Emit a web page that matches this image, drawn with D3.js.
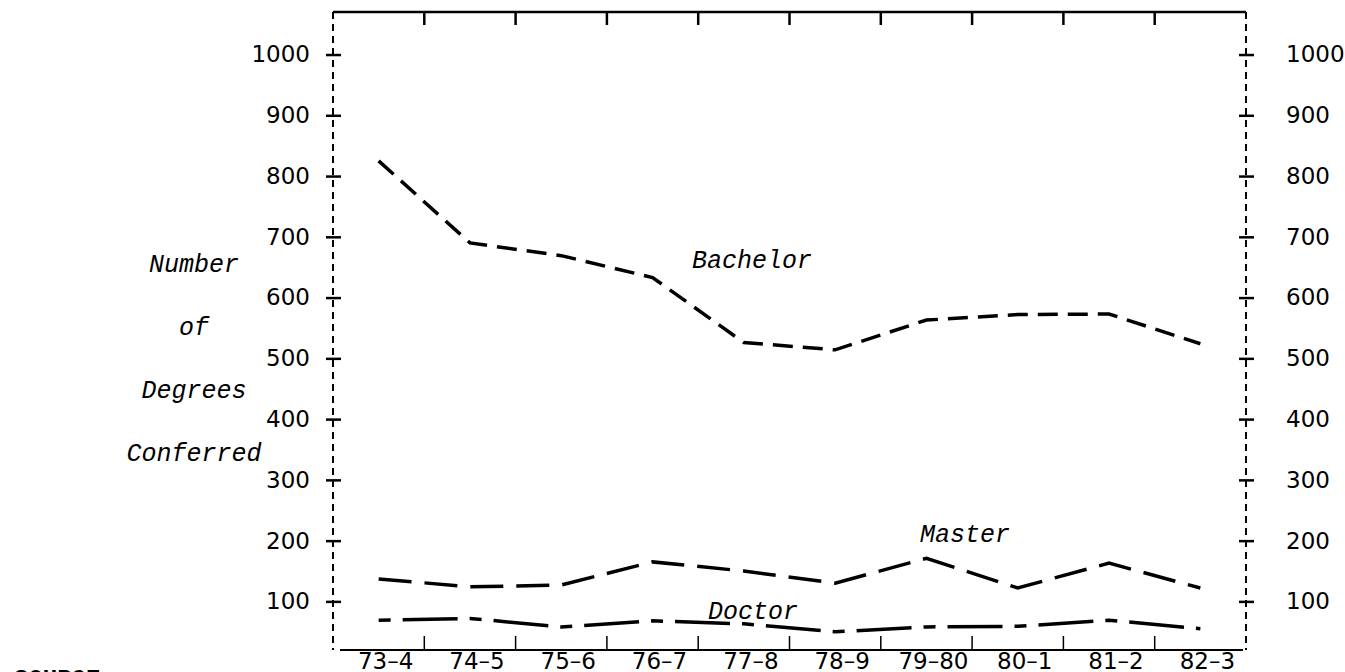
<!DOCTYPE html>
<meta charset="utf-8">
<script src="https://d3js.org/d3.v7.min.js"></script>
<style>
  body { margin: 0; background: #fff; }
  .tick text { font-family: "DejaVu Sans"; font-size: 23px; fill: #000; }
  .lbl { font-family: "Liberation Mono"; font-style: italic; font-size: 25px; fill: #000; }
</style>
<body>
<div id="chart"></div>
<script>
  // ---------------- data ----------------
  const years = ["73–4", "74–5", "75–6", "76–7", "77–8", "78–9", "79–80", "80–1", "81–2", "82–3"];
  const bachelor = [825, 690, 669, 633, 526, 514, 563, 572, 573, 524];
  const master = [137, 124, 127, 165, 150, 130, 171, 122, 163, 122];
  const doctor = [69, 72, 58, 68, 63, 50, 58, 59, 69, 55];
  const yTicks = [100, 200, 300, 400, 500, 600, 700, 800, 900, 1000];
  const yTitle = ["Number", "of", "Degrees", "Conferred"];

  const width = 1345, height = 672;
  const frame = {left: 333, right: 1246, top: 12, bottom: 650};

  const svg = d3.select("#chart").append("svg")
    .attr("width", width)
    .attr("height", height);

  const x = d3.scaleBand().domain(years).range([frame.left, frame.right]);
  const y = d3.scaleLinear().domain([20, 1070]).range([frame.bottom, frame.top]);

  // frame: dashed sides, solid top and bottom
  svg.append("line")
    .attr("x1", frame.left).attr("x2", frame.right)
    .attr("y1", frame.top).attr("y2", frame.top)
    .attr("stroke", "#000").attr("stroke-width", 2.5);
  svg.append("line")
    .attr("x1", frame.left + 7).attr("x2", frame.right - 3)
    .attr("y1", frame.bottom).attr("y2", frame.bottom)
    .attr("stroke", "#000").attr("stroke-width", 2);
  [frame.left, frame.right].forEach(xx => {
    svg.append("line")
      .attr("x1", xx).attr("x2", xx).attr("y1", frame.top).attr("y2", frame.bottom)
      .attr("stroke", "#000").attr("stroke-width", 2)
      .attr("stroke-dasharray", "7,5");
  });

  // ticks at band boundaries, top (down) and bottom (up)
  const inner = years.slice(1);
  svg.selectAll(".ttick").data(inner).enter().append("line")
    .attr("x1", d => x(d)).attr("x2", d => x(d))
    .attr("y1", frame.top).attr("y2", frame.top + 13)
    .attr("stroke", "#000").attr("stroke-width", 2.5);
  svg.selectAll(".btick").data(inner).enter().append("line")
    .attr("x1", d => x(d)).attr("x2", d => x(d))
    .attr("y1", frame.bottom).attr("y2", frame.bottom - 14)
    .attr("stroke", "#000").attr("stroke-width", 1.5);

  // y axes (left and right), crossing ticks
  const fmt = d3.format("d");
  const yl = svg.append("g").attr("transform", `translate(${frame.left},0)`)
    .call(d3.axisLeft(y).tickValues(yTicks).tickFormat(fmt).tickSize(7));
  const yr = svg.append("g").attr("transform", `translate(${frame.right},0)`)
    .call(d3.axisRight(y).tickValues(yTicks).tickFormat(fmt).tickSize(7));
  [yl, yr].forEach(g => {
    g.select(".domain").remove();
    g.selectAll(".tick line")
      .attr("x1", -7).attr("x2", 8)
      .attr("stroke", "#000").attr("stroke-width", 2.5);
  });
  yl.selectAll(".tick text").attr("x", -23);
  yr.selectAll(".tick text").attr("x", 40);

  // x labels
  const xa = svg.append("g").attr("transform", `translate(7,${frame.bottom})`)
    .call(d3.axisBottom(x).tickSize(0).tickPadding(2));
  xa.select(".domain").remove();
  xa.selectAll(".tick text").attr("dy", "0.76em");

  // lines
  const line = d3.line()
    .x((d, i) => x(years[i]) + x.bandwidth() / 2)
    .y(d => y(d));

  const series = [
    {vals: bachelor, dash: "20,10"},
    {vals: master, dash: "33,13"},
    {vals: doctor, dash: "12,12,55,12"}
  ];
  svg.selectAll(".series").data(series).enter().append("path")
    .attr("d", d => line(d.vals))
    .attr("fill", "none")
    .attr("stroke", "#000")
    .attr("stroke-width", 3.5)
    .attr("stroke-dasharray", d => d.dash);

  // series labels
  svg.append("text").attr("class", "lbl").attr("x", 692).attr("y", 268).text("Bachelor");
  svg.append("text").attr("class", "lbl").attr("x", 920).attr("y", 542).text("Master");
  svg.append("text").attr("class", "lbl").attr("x", 708).attr("y", 619).text("Doctor");

  // y title
  svg.selectAll(".ytitle").data(yTitle).enter().append("text")
    .attr("class", "lbl")
    .attr("x", 194)
    .attr("y", (d, i) => 272 + i * 63)
    .attr("text-anchor", "middle")
    .text(d => d);

  // cut-off source note at the bottom edge
  svg.append("text")
    .attr("x", 14).attr("y", 686)
    .attr("font-family", "Liberation Mono").attr("font-weight", "bold")
    .attr("font-size", 24)
    .text("SOURCE:");
</script>
</body>
